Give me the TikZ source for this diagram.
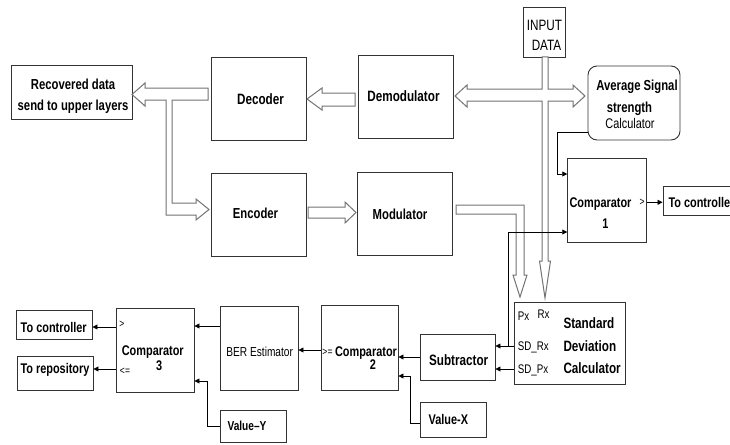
\documentclass[tikz,border=0pt]{standalone}
\usepackage{fontspec}
\setmainfont{Liberation Sans}[FakeStretch=0.78]
\usetikzlibrary{arrows.meta}
\definecolor{boxc}{rgb}{0.2,0.2,0.2}
\definecolor{hollc}{rgb}{0.45,0.45,0.45}
\tikzset{
  box/.style={draw=boxc, line width=0.9pt, inner sep=0pt, fill=white},
  hollow/.style={draw=hollc, fill=white, line width=1pt, line join=miter},
  sig/.style={draw=black, line width=0.8pt, -{Triangle[length=5pt,width=5pt]}},
  tbig/.style={inner sep=0pt, font=\bfseries\fontsize{15}{18}\selectfont},
  trec/.style={inner sep=0pt, font=\bfseries\fontsize{14.5}{17}\selectfont},
  tmed/.style={inner sep=0pt, font=\bfseries\fontsize{14}{17}\selectfont},
  tval/.style={inner sep=0pt, font=\bfseries\fontsize{13}{16}\selectfont},
  treg/.style={inner sep=0pt, font=\fontsize{13}{16}\selectfont},
  tcal/.style={inner sep=0pt, font=\fontsize{14}{16}\selectfont},
  tinp/.style={inner sep=0pt, font=\fontsize{15}{18}\selectfont},
  tsml/.style={inner sep=0pt, font=\fontsize{12.5}{15}\selectfont},
  ttiny/.style={inner sep=0pt, font=\fontsize{11}{13}\selectfont},
}
\begin{document}
\begin{tikzpicture}[x=1pt,y=-1pt]
\useasboundingbox (0,0) rectangle (730,444);
\begin{scope}
\clip (0,0) rectangle (730,444);

% ---------- boxes ----------
\node[box, minimum width=121, minimum height=54] (rec) at (71.5,92) {};
\node[box, minimum width=95, minimum height=83] (dec) at (258.5,98.5) {};
\node[box, minimum width=95, minimum height=83] (enc) at (258.5,214.5) {};
\node[box, minimum width=95, minimum height=83] (demod) at (405.5,96.5) {};
\node[box, minimum width=95, minimum height=83] (mod) at (404.5,213.5) {};
\node[box, minimum width=42, minimum height=50] (inp) at (544,32) {};
\node[box, rounded corners=9pt, minimum width=92, minimum height=74] (asc) at (634,103) {};
\node[box, minimum width=79, minimum height=84] (cmp1) at (607.2,200.5) {};
\node[box, minimum width=97, minimum height=29] (toc1) at (711.5,200.8) {};
\node[box, minimum width=111, minimum height=82] (sdc) at (569.5,343) {};
\node[box, minimum width=75, minimum height=46] (sub) at (457.5,357) {};
\node[box, minimum width=66, minimum height=35] (valx) at (453,419.5) {};
\node[box, minimum width=77, minimum height=85] (cmp2) at (359.5,347.5) {};
\node[box, minimum width=78, minimum height=84] (ber) at (259,348) {};
\node[box, minimum width=78, minimum height=84] (cmp3) at (155,350) {};
\node[box, minimum width=76, minimum height=29] (toc) at (54,324.5) {};
\node[box, minimum width=76, minimum height=34] (torep) at (55,373) {};
\node[box, minimum width=66, minimum height=32] (valy) at (253,426) {};

% ---------- texts ----------
\node[trec, anchor=base] (trec1) at (73,89.5) {Recovered data};
\node[trec, anchor=base] (trec2) at (73,110) {send to upper layers};
\node[tbig, anchor=base] (tdec) at (260.5,104) {Decoder};
\node[tbig, anchor=base] (tdemod) at (403.5,101.5) {Demodulator};
\node[trec, anchor=base] (tenc) at (255.5,218.3) {Encoder};
\node[trec, anchor=base] (tmod) at (400,219) {Modulator};
\node[tinp, anchor=base] (tinp1) at (544.5,30.5) {INPUT};
\node[tinp, anchor=base] (tinp2) at (546.5,50.5) {DATA};
\node[trec, anchor=base] (tasc1) at (637,90.7) {Average Signal};
\node[trec, anchor=base] (tasc2) at (629.5,112.5) {strength};
\node[tcal, anchor=base] (tasc3) at (630,128.3) {Calculator};
\node[tmed, anchor=base] (tc1a) at (600.5,207.3) {Comparator};
\node[tmed, anchor=base] (tc1b) at (605.3,228.3) {1};
\node[ttiny] (gt1) at (642,202.5) {>};
\node[tmed, anchor=base west] (ttoc1) at (668.3,207.3) {To controller};
\node[tsml, anchor=base west] (tpx) at (517.7,320) {Px};
\node[tsml, anchor=base west] (trx) at (537.3,318.5) {Rx};
\node[tsml, anchor=base west] (tsdrx) at (517.7,350) {SD\_Rx};
\node[tsml, anchor=base west] (tsdpx) at (517.7,373.3) {SD\_Px};
\node[tbig, anchor=base west] (tsd1) at (563.3,328.5) {Standard};
\node[tbig, anchor=base west] (tsd2) at (563.3,351.7) {Deviation};
\node[tbig, anchor=base west] (tsd3) at (563.3,373.3) {Calculator};
\node[tbig, anchor=base] (tsub) at (458.7,365.3) {Subtractor};
\node[tmed, anchor=base] (tvalx) at (448.3,424) {Value-X};
\node[ttiny] (ge2) at (327.5,352) {>=};
\node[tmed, anchor=base] (tc2a) at (366,356.7) {Comparator};
\node[tmed, anchor=base] (tc2b) at (373,369.5) {2};
\node[treg, anchor=base] (tber) at (259.7,356.7) {BER Estimator};
\node[ttiny] (gt3) at (122,324.5) {>};
\node[ttiny] (le3) at (125,371.5) {<=};
\node[tmed, anchor=base] (tc3a) at (152.8,355) {Comparator};
\node[tmed, anchor=base] (tc3b) at (159.2,370) {3};
\node[tmed, anchor=base] (ttoc) at (53.7,332) {To controller};
\node[tmed, anchor=base] (ttorep) at (55,373.7) {To repository};
\node[tval, anchor=base] (tvaly) at (247,430) {Value–Y};

% ---------- hollow (block) arrows ----------
\draw[hollow] (208,88) -- (145,88) -- (145,83) -- (132,94.5) -- (145,106) -- (145,100)
  -- (166,100) -- (166,215) -- (196,215) -- (196,220) -- (209,209.5) -- (196,199)
  -- (196,203) -- (172,203) -- (172,100) -- (208,100) -- cycle;
\draw[hollow] (355,93) -- (322,93) -- (322,88) -- (307,99) -- (322,110) -- (322,106) -- (355,106) -- cycle;
\draw[hollow] (308,207) -- (345,207) -- (345,202) -- (356,212.5) -- (345,223) -- (345,218) -- (308,218) -- cycle;
\draw[hollow] (456,205) -- (524,205) -- (524,275) -- (527,275) -- (520,297) -- (513,275)
  -- (516,275) -- (516,214) -- (456,214) -- cycle;
\draw[hollow] (542,57) -- (548,57) -- (548,89) -- (573,89) -- (573,85) -- (585,96) -- (573,107)
  -- (573,101) -- (548,101) -- (548,261) -- (550.5,261) -- (545,298) -- (539.5,261)
  -- (542,261) -- (542,101) -- (467,101) -- (467,107) -- (455,96) -- (467,85) -- (467,89)
  -- (542,89) -- cycle;

% ---------- signal arrows ----------
\draw[sig] (cmp3.west |- 0,327) -- (toc.east |- 0,327);
\draw[sig] (cmp3.west |- 0,369) -- (torep.east |- 0,369);
\draw[sig] (ber.west |- 0,326) -- (cmp3.east |- 0,326);
\draw[sig] (valy.west |- 0,426) -- (207,426) -- (207,381) -- (cmp3.east |- 0,381);
\draw[sig] (cmp2.west |- 0,350) -- (ber.east |- 0,350);
\draw[sig] (sub.west |- 0,357) -- (cmp2.east |- 0,357);
\draw[sig] (valx.west |- 0,423) -- (410,423) -- (410,376) -- (cmp2.east |- 0,376);
\draw[sig] (sdc.west |- 0,346) -- (sub.east |- 0,346);
\draw[sig] (sdc.west |- 0,369) -- (sub.east |- 0,369);
\draw[sig] (508,346) -- (508,232) -- (cmp1.west |- 0,232);
\draw[sig] (asc.west |- 0,132) -- (557,132) -- (557,174) -- (cmp1.west |- 0,174);
\draw[sig] (cmp1.east |- 0,202.3) -- (toc1.west |- 0,202.3);
\end{scope}
\end{tikzpicture}
\end{document}
